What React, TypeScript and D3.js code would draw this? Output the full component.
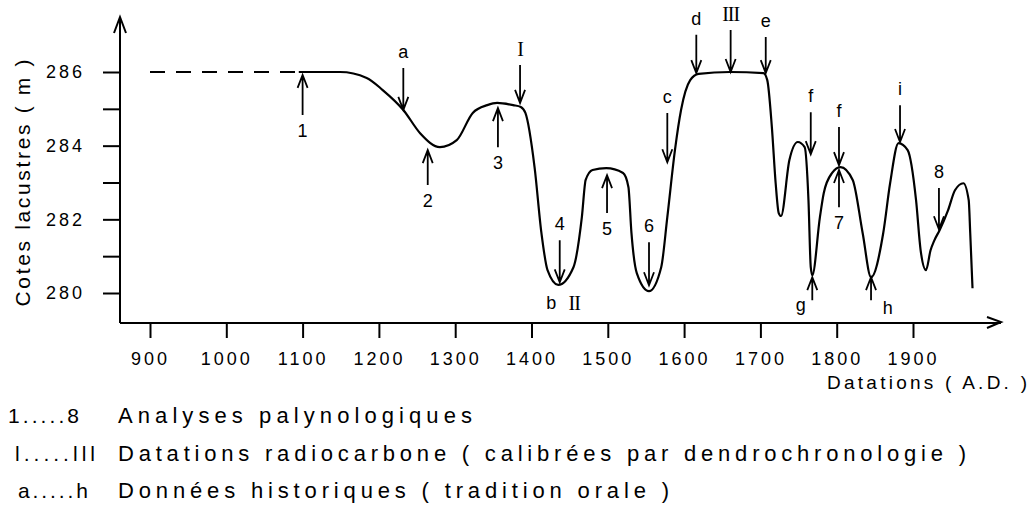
import React, { useEffect, useRef } from 'react';
import * as d3 from 'd3';

// lake level curve (year A.D., level in m)
const years = [
  1095, 1149, 1184, 1205, 1232, 1254, 1280, 1302, 1323, 1342, 1355, 1376,
  1386, 1392, 1404, 1413, 1421, 1435, 1455, 1466, 1471, 1480, 1498, 1520,
  1527, 1531, 1538, 1554, 1570, 1578, 1588, 1596, 1608, 1619, 1660, 1704,
  1709, 1715, 1720, 1724, 1727, 1738, 1749, 1758, 1763, 1766, 1768, 1778,
  1783, 1794, 1805, 1821, 1834, 1845, 1861, 1870, 1881, 1893, 1904, 1910,
  1917, 1923, 1928, 1935, 1946, 1955, 1966, 1973, 1975, 1978,
];
const levels = [
  286.0, 286.0, 285.84, 285.51, 284.97, 284.34, 283.96, 284.15, 284.89, 285.1, 285.16, 285.1,
  285.05, 284.89, 283.42, 281.63, 280.62, 280.22, 280.7, 282.06, 283.07, 283.34, 283.39, 283.26,
  282.88, 281.63, 280.54, 280.05, 280.7, 282.06, 283.88, 284.97, 285.78, 285.95, 286.0, 285.97,
  285.78, 284.51, 282.98, 282.17, 282.09, 283.61, 284.1, 283.96, 282.52, 280.7, 280.48, 282.06,
  282.71, 283.26, 283.42, 283.07, 281.63, 280.43, 281.63, 282.98, 284.07, 283.88, 282.52, 281.16,
  280.62, 281.16, 281.43, 281.71, 282.25, 282.79, 282.98, 282.52, 281.63, 280.13,
];
const dashedYears = [900, 1095];
const dashedLevels = [286, 286];

const xTicks = [900, 1000, 1100, 1200, 1300, 1400, 1500, 1600, 1700, 1800, 1900];
const yTicks = [280, 281, 282, 283, 284, 285, 286];
const yTickLabels = [280, 282, 284, 286];

// arrows: label, year, level at tip, level at tail
const arrowLabels = ['1', 'a', '2', '3', 'I', '4', '5', '6', 'c', 'd', 'III', 'e', 'f', '', 'f', '7', '', 'i', '8'];
const arrowYears = [1100, 1232, 1264, 1356, 1385, 1437, 1499, 1554, 1578, 1616, 1661, 1707, 1766, 1768, 1803, 1803, 1845, 1883, 1934];
const arrowTips = [285.92, 284.97, 283.88, 285.02, 285.16, 280.29, 283.2, 280.21, 283.55, 285.97, 286.0, 285.97, 283.77, 280.43, 283.47, 283.34, 280.43, 284.1, 281.73];
const arrowTails = [284.83, 286.11, 282.93, 283.96, 286.19, 281.43, 282.17, 281.38, 284.89, 287.01, 287.14, 286.95, 284.91, 279.8, 284.51, 282.33, 279.8, 285.1, 282.85];

// loose labels under the curve
const extraLabels = ['b', 'II', 'g', 'h'];
const extraYears = [1426, 1456, 1753, 1867];
const extraLevels = [279.72, 279.72, 279.67, 279.59];

const legendKeys = ['1.....8', 'l.....lll', 'a.....h'];
const legendTexts = [
  'Analyses palynologiques',
  'Datations radiocarbone ( calibrées par dendrochronologie )',
  'Données historiques ( tradition orale )',
];

const SANS = '"Liberation Sans", Arial, Helvetica, sans-serif';
const SERIF = '"Liberation Serif", "Times New Roman", serif';
const roman = new Set(['I', 'II', 'III']);

const App = () => {
  const ref = useRef<SVGSVGElement | null>(null);

  useEffect(() => {
    const svg = d3.select(ref.current);
    svg.selectAll('*').remove();

    const x = d3.scaleLinear().domain([900, 1900]).range([150, 913]);
    const y = d3.scaleLinear().domain([280, 286]).range([293, 72]);
    const x0 = 120;
    const y0 = 323;

    svg.append('rect').attr('width', 1034).attr('height', 519).attr('fill', '#fff');

    // axes lines with open arrow heads
    const ax = svg.append('g').attr('stroke', '#000').attr('stroke-width', 2).attr('fill', 'none');
    ax.append('path').attr('d', `M${x0},${y0}H1001M987,317L1001,322L987,328`);
    ax.append('path').attr('d', `M${x0},${y0}V17M114,33L${x0},17L126,33`);

    const yAxis = d3
      .axisLeft(y)
      .tickValues(yTicks)
      .tickSize(17)
      .tickPadding(18)
      .tickFormat((d) => (yTickLabels.includes(+d) ? String(d) : ''));
    const gy = svg.append('g').attr('transform', `translate(${x0},0)`).call(yAxis);
    gy.select('.domain').remove();

    const xAxis = d3.axisBottom(x).tickValues(xTicks).tickSize(15).tickPadding(14).tickFormat(d3.format('d'));
    const gx = svg.append('g').attr('transform', `translate(0,${y0})`).call(xAxis);
    gx.select('.domain').remove();

    [gx, gy].forEach((g) => {
      g.selectAll('line').attr('stroke', '#000').attr('stroke-width', 2);
      g.selectAll('text')
        .attr('fill', '#000')
        .style('font-family', SANS)
        .style('font-size', '18px')
        .style('letter-spacing', '3px');
    });

    // curve
    const line = d3
      .line<number>()
      .x((d, i) => x(years[i]))
      .y((d) => y(d))
      .curve(d3.curveMonotoneX);
    svg
      .append('path')
      .attr('d', line(levels))
      .attr('fill', 'none')
      .attr('stroke', '#000')
      .attr('stroke-width', 2.2);

    const dashed = d3
      .line<number>()
      .x((d, i) => x(dashedYears[i]))
      .y((d) => y(d));
    svg
      .append('path')
      .attr('d', dashed(dashedLevels))
      .attr('fill', 'none')
      .attr('stroke', '#000')
      .attr('stroke-width', 2)
      .attr('stroke-dasharray', '15,11');

    // arrows
    const ag = svg.append('g').attr('fill', '#000');
    arrowYears.forEach((yr, i) => {
      const px = x(yr);
      const tip = y(arrowTips[i]);
      const tail = y(arrowTails[i]);
      const dir = tip > tail ? 1 : -1;
      ag.append('path')
        .attr('d', `M${px},${tail}V${tip}M${px - 5},${tip - 13 * dir}L${px},${tip}L${px + 5},${tip - 13 * dir}`)
        .attr('fill', 'none')
        .attr('stroke', '#000')
        .attr('stroke-width', 1.8);
      const lab = arrowLabels[i];
      if (lab) {
        const isRoman = roman.has(lab);
        ag.append('text')
          .attr('x', px)
          .attr('y', tail - 16 * dir)
          .attr('text-anchor', 'middle')
          .attr('dominant-baseline', 'central')
          .style('font-family', isRoman ? SERIF : SANS)
          .style('font-size', isRoman ? '20px' : '18px')
          .style('letter-spacing', isRoman ? '-1px' : '0px')
          .text(lab);
      }
    });

    extraLabels.forEach((lab, i) => {
      const isRoman = roman.has(lab);
      ag.append('text')
        .attr('x', x(extraYears[i]))
        .attr('y', y(extraLevels[i]))
        .attr('text-anchor', 'middle')
        .attr('dominant-baseline', 'central')
        .style('font-family', isRoman ? SERIF : SANS)
        .style('font-size', isRoman ? '20px' : '18px')
        .style('letter-spacing', isRoman ? '-1px' : '0px')
        .text(lab);
    });

    // axis titles
    svg
      .append('text')
      .attr('transform', 'translate(22,183) rotate(-90)')
      .attr('text-anchor', 'middle')
      .attr('dominant-baseline', 'central')
      .attr('textLength', 247)
      .attr('lengthAdjust', 'spacing')
      .style('font-family', SANS)
      .style('font-size', '21px')
      .text('Cotes lacustres ( m )');

    svg
      .append('text')
      .attr('x', 827)
      .attr('y', 382)
      .attr('dominant-baseline', 'central')
      .attr('textLength', 200)
      .attr('lengthAdjust', 'spacing')
      .style('font-family', SANS)
      .style('font-size', '19px')
      .text('Datations ( A.D. )');

    // legend
    const keyW = [71, 80, 70];
    const keyX = [8, 15, 18];
    const textW = [354, 848, 551];
    const rowY = [415, 453, 490];
    legendKeys.forEach((k, i) => {
      svg
        .append('text')
        .attr('x', keyX[i])
        .attr('y', rowY[i])
        .attr('dominant-baseline', 'central')
        .attr('textLength', keyW[i])
        .attr('lengthAdjust', 'spacing')
        .style('font-family', SANS)
        .style('font-size', '21px')
        .text(k);
      svg
        .append('text')
        .attr('x', 118)
        .attr('y', rowY[i])
        .attr('dominant-baseline', 'central')
        .attr('textLength', textW[i])
        .attr('lengthAdjust', 'spacing')
        .style('font-family', SANS)
        .style('font-size', '22px')
        .text(legendTexts[i]);
    });
  }, []);

  return (
    <svg
      ref={ref}
      width={1034}
      height={519}
      style={{ position: 'absolute', left: 0, top: 0, display: 'block' }}
    />
  );
};

export default App;
